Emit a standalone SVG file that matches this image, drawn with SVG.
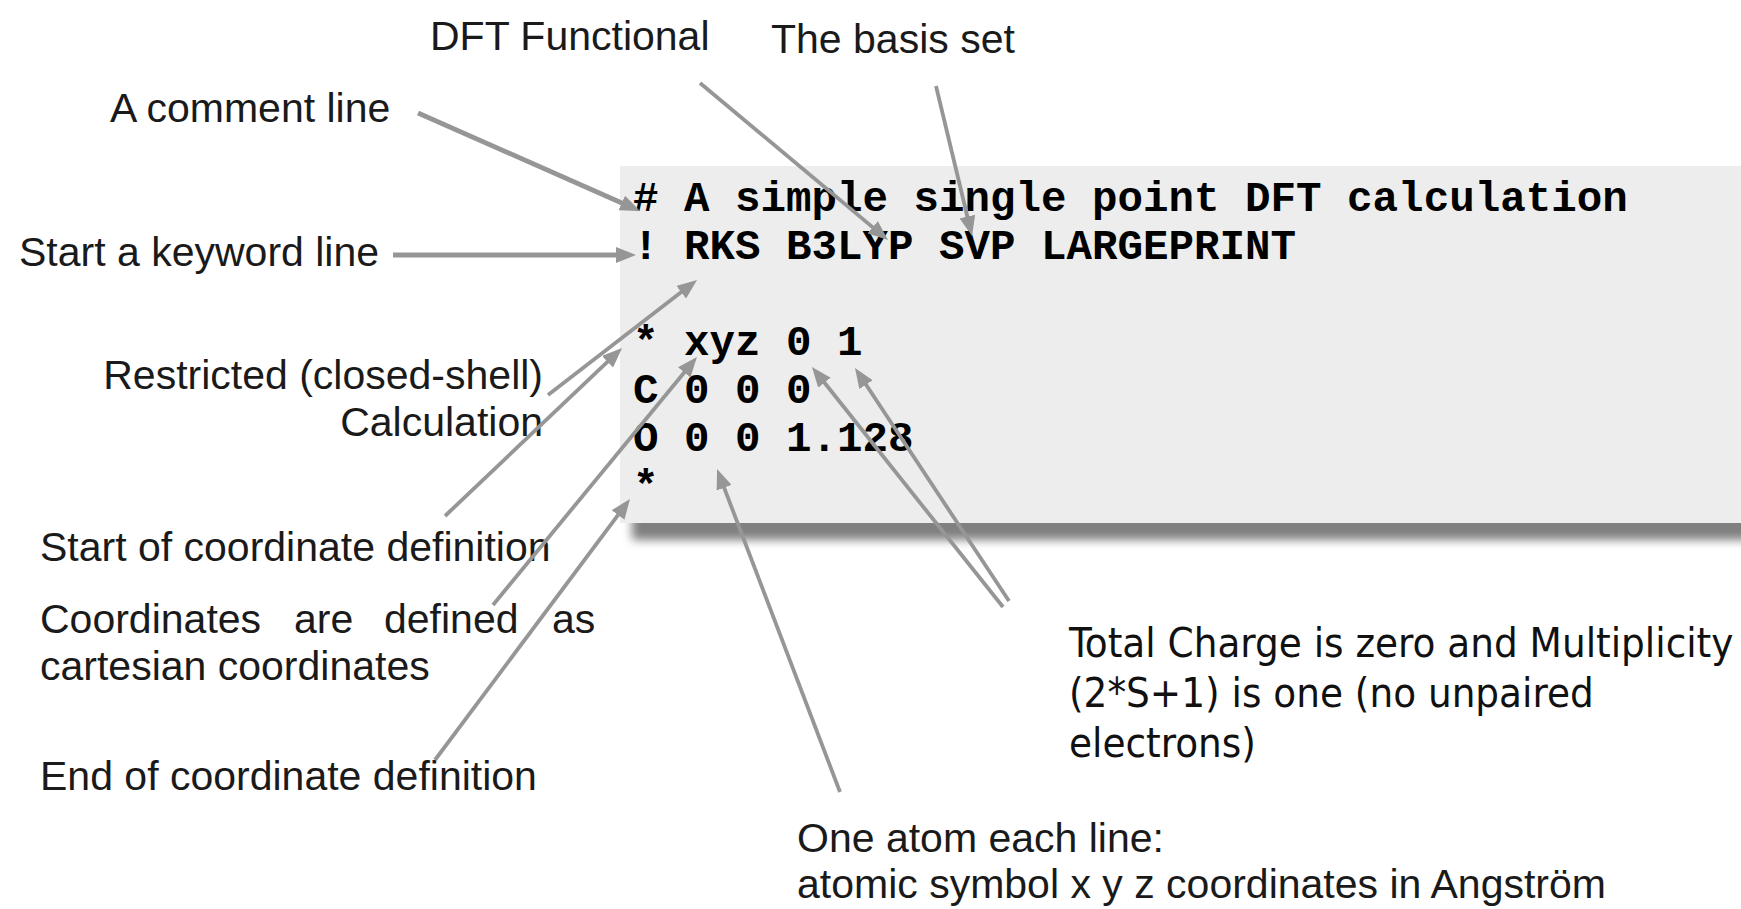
<svg xmlns="http://www.w3.org/2000/svg" width="1741" height="909" viewBox="0 0 1741 909">
<style>
.lbl{font-family:"Liberation Sans",Arial,sans-serif;font-size:41px;fill:#1a1a1a}
.rt{font-family:"DejaVu Sans Condensed","DejaVu Sans",sans-serif;font-size:41.6px;fill:#111}
.code{font-family:"Liberation Mono","Courier New",monospace;font-size:42.5px;font-weight:bold;fill:#000}
.ar{stroke:#969696;stroke-width:3.8;fill:none;marker-end:url(#ah)}
.arw{stroke:#969696;stroke-width:4.8;fill:none;marker-end:url(#ah)}
</style>
<defs>
<marker id="ah" markerUnits="userSpaceOnUse" viewBox="0 0 20 16" refX="10" refY="8" markerWidth="20" markerHeight="16" orient="auto">
<path d="M0,0 L20,8 L0,16 z" fill="#969696"/>
</marker>
<filter id="sh" x="-5%" y="-50%" width="110%" height="200%">
<feGaussianBlur stdDeviation="5"/>
</filter>
</defs>
<rect width="1741" height="909" fill="#fff"/>

<g id="code-block">
<rect x="632" y="512" width="1200" height="28" fill="#808080" filter="url(#sh)"/>
<rect x="620" y="166" width="1130" height="357" fill="#ededed"/>
<text class="code" x="633" y="211" xml:space="preserve"># A simple single point DFT calculation</text>
<text class="code" x="633" y="259" xml:space="preserve">! RKS B3LYP SVP LARGEPRINT</text>
<text class="code" x="633" y="355" xml:space="preserve">* xyz 0 1</text>
<text class="code" x="633" y="403" xml:space="preserve">C 0 0 0</text>
<text class="code" x="633" y="451" xml:space="preserve">O 0 0 1.128</text>
<text class="code" x="633" y="499" xml:space="preserve">*</text>
</g>

<g id="label-dft"><text class="lbl" x="430" y="50">DFT Functional</text></g>
<g id="label-basis"><text class="lbl" x="771" y="53">The basis set</text></g>
<g id="label-comment"><text class="lbl" x="110" y="122">A comment line</text></g>
<g id="label-keyword"><text class="lbl" x="19" y="266">Start a keyword line</text></g>
<g id="label-restricted">
<text class="lbl" x="543" y="389" text-anchor="end">Restricted (closed-shell)</text>
<text class="lbl" x="543" y="436" text-anchor="end">Calculation</text>
</g>
<g id="label-start-coord"><text class="lbl" x="40" y="561">Start of coordinate definition</text></g>
<g id="label-cartesian">
<text class="lbl" y="633"><tspan x="40">Coordinates</tspan><tspan x="294">are</tspan><tspan x="384">defined</tspan><tspan x="552">as</tspan></text>
<text class="lbl" x="40" y="680">cartesian coordinates</text>
</g>
<g id="label-end-coord"><text class="lbl" x="40" y="790">End of coordinate definition</text></g>
<g id="label-charge">
<text class="rt" x="1069" y="657">Total Charge is zero and Multiplicity</text>
<text class="rt" x="1069" y="707">(2*S+1) is one (no unpaired</text>
<text class="rt" x="1069" y="757">electrons)</text>
</g>
<g id="label-atom">
<text class="lbl" x="797" y="852">One atom each line:</text>
<text class="lbl" x="797" y="898">atomic symbol x y z coordinates in Angström</text>
</g>

<g id="connectors">
<line class="arw" x1="418" y1="113" x2="630.9" y2="207"/>
<line class="arw" x1="393" y1="255" x2="626" y2="255"/>
<line class="ar" x1="700" y1="83" x2="880.3" y2="233.6"/>
<line class="ar" x1="936" y1="86" x2="969.7" y2="226.3"/>
<line class="ar" x1="548" y1="395" x2="689.1" y2="286.1"/>
<line class="ar" x1="445" y1="516" x2="614.8" y2="354.9"/>
<line class="ar" x1="493" y1="605" x2="690.6" y2="364.7"/>
<line class="ar" x1="435" y1="760" x2="624" y2="507"/>
<line class="ar" x1="840" y1="792" x2="720.6" y2="478.4"/>
<line class="ar" x1="1003" y1="607" x2="818.2" y2="374.8"/>
<line class="ar" x1="1009" y1="601" x2="860.5" y2="376.3"/>
</g>
</svg>
